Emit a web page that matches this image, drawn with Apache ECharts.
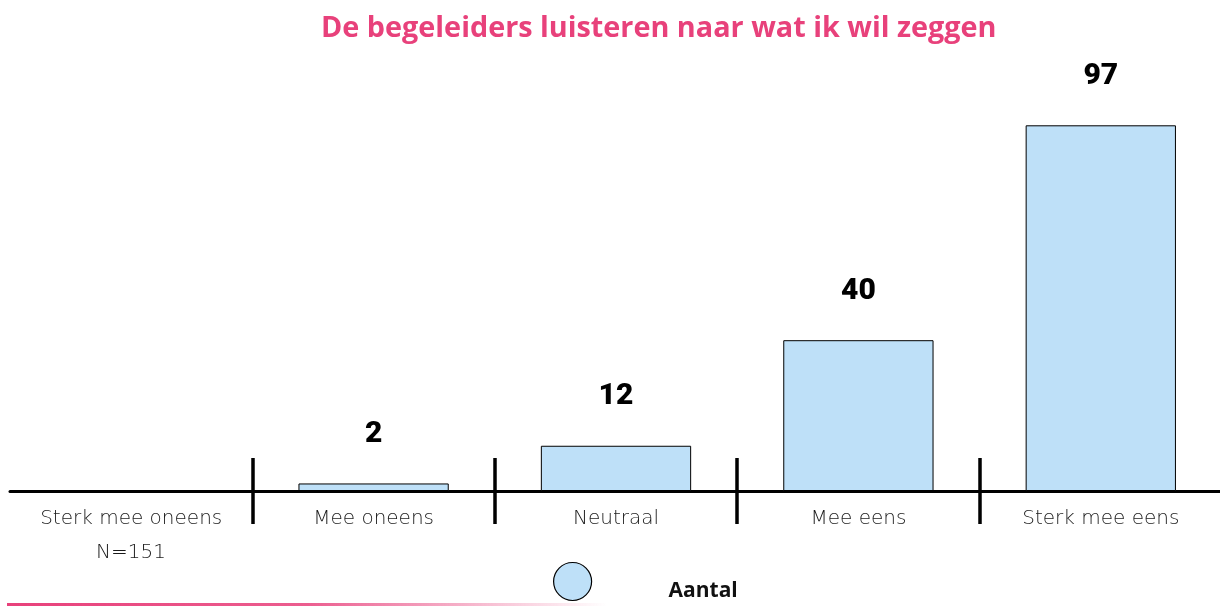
<!DOCTYPE html>
<html>
<head>
<meta charset="utf-8">
<script src="https://cdn.jsdelivr.net/npm/echarts@6/dist/echarts.min.js"></script>
<style>
  html, body { margin: 0; padding: 0; background: #fff; }
  #canvas { width: 1220px; height: 606px; }
</style>
</head>
<body>
<div id="canvas"></div>
<script>
const categories = ['Sterk mee oneens', 'Mee oneens', 'Neutraal', 'Mee eens', 'Sterk mee eens'];
const aantal = [0, 2, 12, 40, 97];
const seriesName = 'Aantal';
const titleText = 'De begeleiders luisteren naar wat ik wil zeggen';
const noteText = 'N=151';

const chart = echarts.init(document.getElementById('canvas'));

// only the ticks between categories, not the one at the left end
const tickInterval = (index) => index > 0 && index < categories.length;
const tickLine = { color: '#000', width: 3.5 };

const option = {
  animation: false,
  title: {
    text: titleText,
    left: 316,
    top: 9,
    textStyle: {
      color: '#e8417b',
      fontFamily: 'Open Sans',
      fontWeight: 'bold',
      fontSize: 28.8,
    },
  },
  legend: {
    data: [seriesName],
    left: 548,
    top: 556,
    icon: 'circle',
    itemWidth: 38,
    itemHeight: 38,
    itemStyle: { borderColor: '#000', borderWidth: 1.2 },
    // empty first line pushes the name below the circle's centre
    formatter: (name) => '\n' + name,
    textStyle: {
      color: '#111',
      fontFamily: 'Open Sans',
      fontWeight: 'bold',
      fontSize: 21,
      lineHeight: 20,
      padding: [0, 0, 0, 72],
    },
  },
  // the right end runs past the canvas so its end tick is cut off
  grid: { left: 10, width: 1212, top: 114, bottom: 115, outerBoundsMode: 'none' },
  xAxis: [
    {
      type: 'category',
      data: categories,
      axisLine: { lineStyle: { color: '#000', width: 3 } },
      axisTick: { show: true, length: 33, interval: tickInterval, lineStyle: tickLine },
      axisLabel: {
        margin: 18,
        color: '#1a1a1a',
        fontFamily: 'DejaVu Sans',
        fontWeight: 200,
        fontSize: 20,
        interval: 0,
      },
    },
    {
      type: 'category',
      data: categories,
      position: 'bottom',
      axisLine: { show: false },
      axisTick: { show: true, inside: true, length: 33, interval: tickInterval, lineStyle: tickLine },
      axisLabel: { show: false },
    },
  ],
  yAxis: { type: 'value', min: 0, max: 100, show: false },
  series: [
    {
      name: seriesName,
      type: 'bar',
      data: aantal,
      barWidth: '62%',
      itemStyle: { color: '#bee0f8', borderColor: '#000', borderWidth: 1 },
      label: {
        show: true,
        position: 'top',
        distance: 34,
        color: '#000',
        fontFamily: 'Roboto',
        fontWeight: 900,
        fontSize: 30,
        formatter: (p) => (p.value ? p.value : ''),
      },
    },
  ],
  graphic: [
    {
      type: 'text',
      left: 96,
      top: 543,
      style: { text: noteText, fill: '#1a1a1a', font: '200 20px "DejaVu Sans"' },
    },
    {
      type: 'rect',
      left: 7,
      bottom: 0,
      shape: { width: 600, height: 3 },
      style: {
        fill: new echarts.graphic.LinearGradient(0, 0, 1, 0, [
          { offset: 0, color: '#e8417b' },
          { offset: 0.5, color: 'rgba(232,65,123,0.85)' },
          { offset: 1, color: 'rgba(232,65,123,0)' },
        ]),
      },
    },
  ],
};

chart.setOption(option);

window.onresize = chart.resize;
</script>
</body>
</html>
